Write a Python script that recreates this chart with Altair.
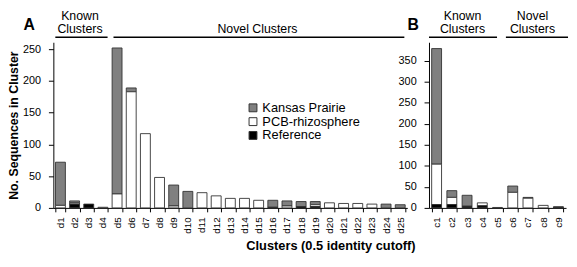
import altair as alt
import pandas as pd

FONT = "Liberation Sans"

sources = ["Kansas Prairie", "PCB-rhizosphere", "Reference"]
source_colors = ["#808080", "#ffffff", "#000000"]
stack_order = {"Reference": 0, "PCB-rhizosphere": 1, "Kansas Prairie": 2}

# Panel A
clusters_a = ["d1", "d2", "d3", "d4", "d5", "d6", "d7", "d8", "d9", "d10",
              "d11", "d12", "d13", "d14", "d15", "d16", "d17", "d18", "d19", "d20",
              "d21", "d22", "d23", "d24", "d25"]
kansas_a = [68, 3, 0, 0, 230, 6, 0, 0, 33, 26, 0, 0, 0, 0, 0, 11, 8, 8, 5, 0, 0, 0, 0, 6, 5]
pcb_a = [4, 2, 0, 1, 22, 183, 117, 48, 3, 0, 24, 19, 15, 15, 12, 0, 3, 0, 3, 8, 7, 7, 6, 0, 0]
ref_a = [0, 6, 6, 0, 0, 0, 0, 0, 0, 0, 0, 0, 0, 0, 0, 1, 0, 2, 2, 0, 0, 0, 0, 0, 0]
yticks_a = [0, 50, 100, 150, 200, 250]

# Panel B
clusters_b = ["c1", "c2", "c3", "c4", "c5", "c6", "c7", "c8", "c9"]
kansas_b = [275, 16, 26, 0, 0, 15, 2, 0, 2]
pcb_b = [96, 17, 0, 7, 1, 37, 23, 6, 0]
ref_b = [8, 8, 4, 5, 0, 0, 0, 0, 1]
yticks_b = [0, 50, 100, 150, 200, 250, 300, 350]


def to_long(clusters, kansas, pcb, ref):
    rows = []
    for i, c in enumerate(clusters):
        for s, vals in zip(sources, [kansas, pcb, ref]):
            if vals[i] > 0:
                rows.append({"cluster": c, "source": s, "count": vals[i], "ord": stack_order[s]})
    return pd.DataFrame(rows)


dummy = pd.DataFrame({"k": [0]})


def txt(label, x, y, size=12.5, bold=False):
    return alt.Chart(dummy).mark_text(
        font=FONT, fontSize=size, fontWeight="bold" if bold else "normal",
        align="center", baseline="alphabetic", color="#000"
    ).encode(x=alt.value(x), y=alt.value(y), text=alt.value(label))


def rule(x1, x2, y):
    return alt.Chart(dummy).mark_rule(color="#000", strokeWidth=1.6).encode(
        x=alt.value(x1), x2=alt.value(x2), y=alt.value(y))


def panel(df, clusters, ymax, yticks, width, pin, pout, legend, ytitle, xtitle, annotations):
    xaxis = dict(labelAngle=270, tickBand="extent", tickSize=4, labelPadding=5,
                 labelFontSize=10)
    if xtitle:
        xaxis.update(title=xtitle, titleX=281, titleY=42, titleAlign="center",
                     titleBaseline="alphabetic", titleFontSize=13, titleFontWeight="bold")
    else:
        xaxis.update(title=None)
    yaxis = dict(values=yticks, tickSize=5, labelPadding=8, labelFontSize=11)
    if ytitle:
        yaxis.update(title=ytitle, titleX=-40, titleY=84, titleAngle=270,
                     titleAlign="center", titleBaseline="middle",
                     titleFontSize=12.5, titleFontWeight="bold")
    else:
        yaxis.update(title=None)
    bars = alt.Chart(df).mark_bar(stroke="#333333", strokeWidth=0.9).encode(
        x=alt.X("cluster:N", sort=clusters,
                scale=alt.Scale(domain=clusters, paddingInner=pin, paddingOuter=pout),
                axis=alt.Axis(**xaxis)),
        y=alt.Y("count:Q", stack="zero",
                scale=alt.Scale(domain=[0, ymax], nice=False),
                axis=alt.Axis(**yaxis)),
        color=alt.Color("source:N",
                        scale=alt.Scale(domain=sources, range=source_colors),
                        legend=legend),
        order=alt.Order("ord:Q", sort="ascending"),
    )
    return alt.layer(bars, *annotations).properties(width=width, height=168)


legend_a = alt.Legend(title=None, orient="none", legendX=196, legendY=60,
                      symbolType="square", symbolSize=64, symbolStrokeColor="#333333",
                      symbolStrokeWidth=1, labelFontSize=13, labelFont=FONT,
                      labelOffset=3, rowPadding=-2.5, labelColor="#000")

ann_a = [
    txt("A", -24.5, -12, size=16, bold=True),
    txt("Known", 27, -23),
    txt("Clusters", 27, -9),
    txt("Novel Clusters", 207, -9),
    rule(2, 55, -5),
    rule(61, 356, -5),
]
ann_b = [
    txt("B", -16, -12, size=16, bold=True),
    txt("Known", 34, -23),
    txt("Clusters", 34, -9),
    txt("Novel", 105, -23),
    txt("Clusters", 105, -9),
    rule(0, 69, -5),
    rule(78, 141, -5),
]

chart_a = panel(to_long(clusters_a, kansas_a, pcb_a, ref_a), clusters_a, 261, yticks_a,
                359, 0.3, 0.15, legend_a, "No. Sequences in Cluster",
                "Clusters (0.5 identity cutoff)", ann_a)
chart_b = panel(to_long(clusters_b, kansas_b, pcb_b, ref_b), clusters_b, 394, yticks_b,
                139, 0.35, 0.175, None, None, None, ann_b)

chart = alt.hconcat(chart_a, chart_b, spacing=22, bounds="flush").resolve_scale(
    color="independent"
).properties(padding=0).configure_view(stroke=None).configure_axis(
    grid=False, domainColor="#000", tickColor="#000", labelColor="#000",
    titleColor="#000", labelFont=FONT, titleFont=FONT
).configure_text(font=FONT)

chart.save("out.html", embed_options={"renderer": "svg", "actions": False})
